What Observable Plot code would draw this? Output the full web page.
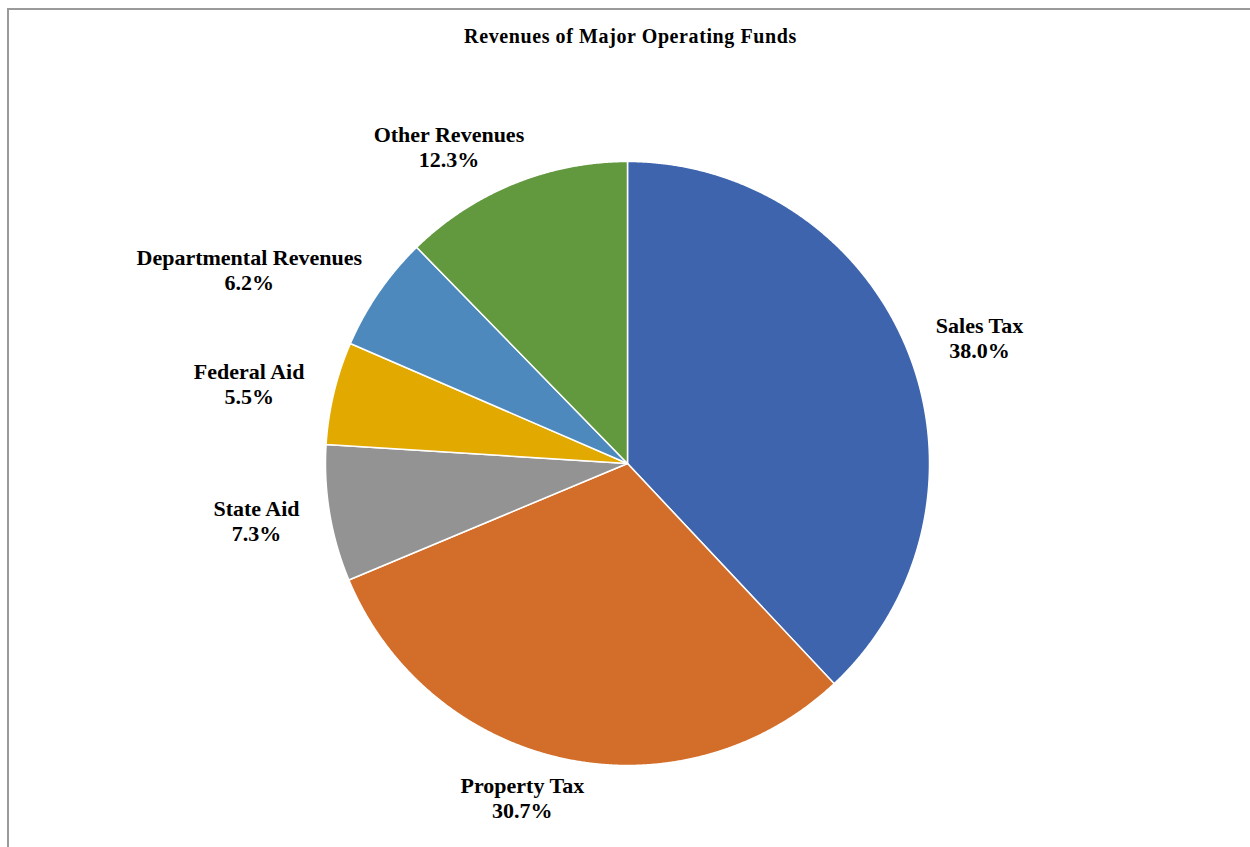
<!DOCTYPE html>
<html><head><meta charset="utf-8">
<script src="https://cdn.jsdelivr.net/npm/d3@7"></script>
<script src="https://cdn.jsdelivr.net/npm/@observablehq/plot@0.6"></script>
<style>
body{margin:0;background:#fff;overflow:hidden}
#wrap{position:relative;width:1250px;height:847px;overflow:hidden}
#chart{position:absolute;left:0;top:0}
#frame{position:absolute;left:7px;top:8px;width:1300px;height:900px;border-left:2px solid #9a9a9a;border-top:2px solid #9a9a9a;pointer-events:none}
#title{position:absolute;top:26px;left:0;width:1261px;text-align:center;font-family:"Liberation Serif";font-weight:bold;font-size:20px;line-height:20px;letter-spacing:0.6px;color:#000}
</style></head><body>
<div id="wrap"><div id="chart"></div><div id="frame"></div><div id="title">Revenues of Major Operating Funds</div></div>
<script>
const categories = ["Sales Tax","Property Tax","State Aid","Federal Aid","Departmental Revenues","Other Revenues"];
const shares = [38.0, 30.7, 7.3, 5.5, 6.2, 12.3];
const colors = ["#3D64AD","#D26E2A","#939393","#E2AA00","#4E89BE","#62993E"];

const W = 1250, H = 847, cx = 627, cy = 463, R = 302;
const FONT_SIZE = 22, LINE_H = 25;

const arcs = d3.pie().sort(null).value(d => d)(shares);
const pts = [];
arcs.forEach((a, i) => {
  pts.push({name: categories[i], x: 0, y: 0});
  const n = Math.max(4, Math.ceil((a.endAngle - a.startAngle) / 0.004));
  for (let k = 0; k <= n; k++) {
    const t = a.startAngle + (a.endAngle - a.startAngle) * k / n;
    pts.push({name: categories[i], x: Math.sin(t), y: Math.cos(t)});
  }
});

const ctx = document.createElement("canvas").getContext("2d");
ctx.font = `bold ${FONT_SIZE}px "Liberation Serif"`;
const padX = 30, padY = 15;
const labels = arcs.map((a, i) => {
  const text = `${categories[i]}\n${shares[i].toFixed(1)}%`;
  const w = Math.max(...text.split("\n").map(s => ctx.measureText(s).width));
  const hw = w / 2, hh = LINE_H;
  const m = (a.startAngle + a.endAngle) / 2;
  const s = Math.sin(m), c = Math.cos(m);
  const px = R * s + Math.sign(s) * Math.sqrt(Math.abs(s)) * (hw + padX);
  const py = R * c + c * (hh + padY);
  return {text, x: px / R, y: py / R};
});

const chart = Plot.plot({
  width: W, height: H,
  margin: 0,
  style: {background: "transparent"},
  x: {domain: [-cx / R, (W - cx) / R], axis: null},
  y: {domain: [-(H - cy) / R, cy / R], axis: null},
  color: {type: "ordinal", domain: categories, range: colors},
  marks: [
    Plot.line(pts, {x: "x", y: "y", z: "name", fill: "name", stroke: "white", strokeWidth: 1.5, strokeLinejoin: "round", curve: "linear-closed"}),
    Plot.text(labels, {x: "x", y: "y", text: "text", fontFamily: "Liberation Serif", fontWeight: "bold", fontSize: FONT_SIZE, lineHeight: LINE_H / FONT_SIZE, fill: "black"})
  ]
});
document.getElementById("chart").appendChild(chart);
</script>
</body></html>
